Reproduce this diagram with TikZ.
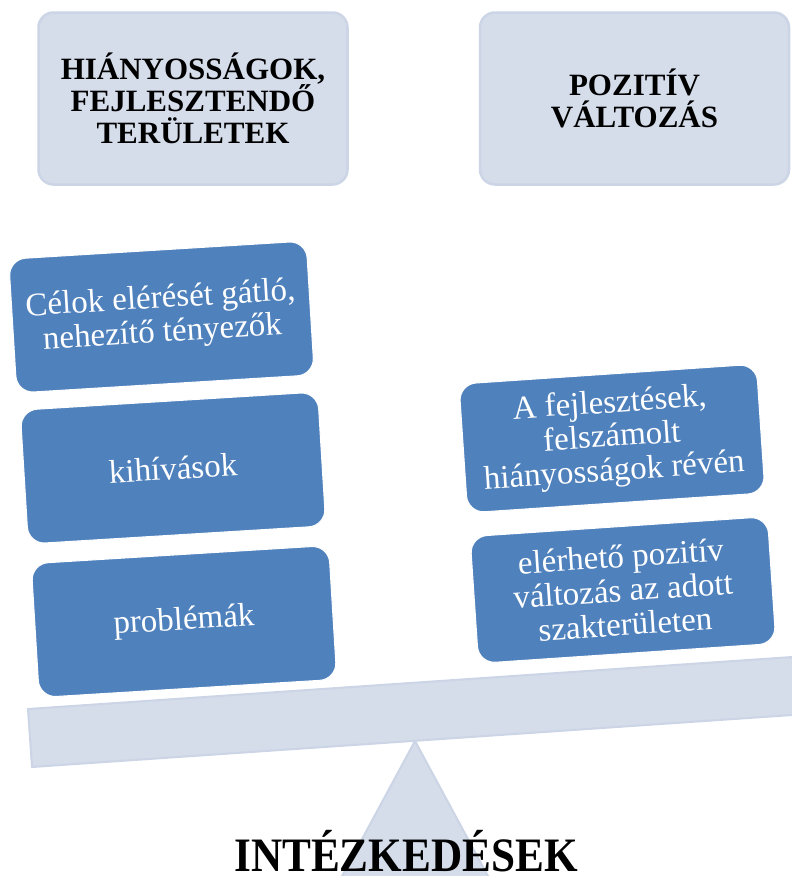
\documentclass[tikz,border=0pt]{standalone}
\usepackage{fontspec}
\setmainfont{Liberation Serif}
\usepackage{tikz}
\usetikzlibrary{shapes}
\definecolor{accentblue}{HTML}{4F81BD}
\definecolor{paleblue}{HTML}{D5DCEA}
\definecolor{paleline}{HTML}{CCD5E6}
\begin{document}
\begin{tikzpicture}[headbox/.style={draw=paleline,line width=2.5bp,fill=paleblue,rounded corners=15bp,minimum width=309bp,minimum height=172bp,align=center,font=\fontsize{31bp}{32bp}\selectfont\bfseries},
itembox/.style={draw=white,line width=1bp,fill=accentblue,text=white,rounded corners=17bp,align=center,minimum width=298bp,font=\fontsize{33bp}{34bp}\selectfont}]

\useasboundingbox (0bp,0bp) rectangle (792bp,-876bp);
\clip (0bp,0bp) rectangle (792bp,-876bp);

\node (T1) at (193bp,-98.5bp)[headbox] {HIÁNYOSSÁGOK,\\FEJLESZTENDŐ\\TERÜLETEK};
\node (T2) at (634.5bp,-98.5bp)[headbox] {POZITÍV\\VÁLTOZÁS};

\draw [paleline,fill=paleblue,line width=2bp] (415bp,-741bp) -- (489bp,-878bp) -- (341bp,-878bp) -- cycle;
\draw [paleline,fill=paleblue,line width=2bp] (810bp,-655.8bp) -- (28bp,-709bp) -- (32bp,-767bp) -- (810bp,-713.8bp) -- cycle;

\node (L1) at (161.5bp,-317bp)[itembox,rotate=3.5,minimum height=134bp] {Célok elérését gátló,\\nehezítő tényezők};
\node (L2) at (173bp,-468bp)[itembox,rotate=3.5,minimum height=134bp] {kihívások};
\node (L3) at (184bp,-621.5bp)[itembox,rotate=3.5,minimum height=134bp] {problémák};
\node (R1) at (612bp,-438.5bp)[itembox,rotate=3.85,minimum height=129bp] {A fejlesztések,\\felszámolt\\hiányosságok révén};
\node (R2) at (623bp,-590bp)[itembox,rotate=3.85,minimum height=127bp] {elérhető pozitív\\változás az adott\\szakterületen};

\node (M) at (406bp,-871bp)[anchor=base,xscale=0.9,font=\fontsize{48bp}{48bp}\selectfont\bfseries] {INTÉZKEDÉSEK};
\end{tikzpicture}
\end{document}
